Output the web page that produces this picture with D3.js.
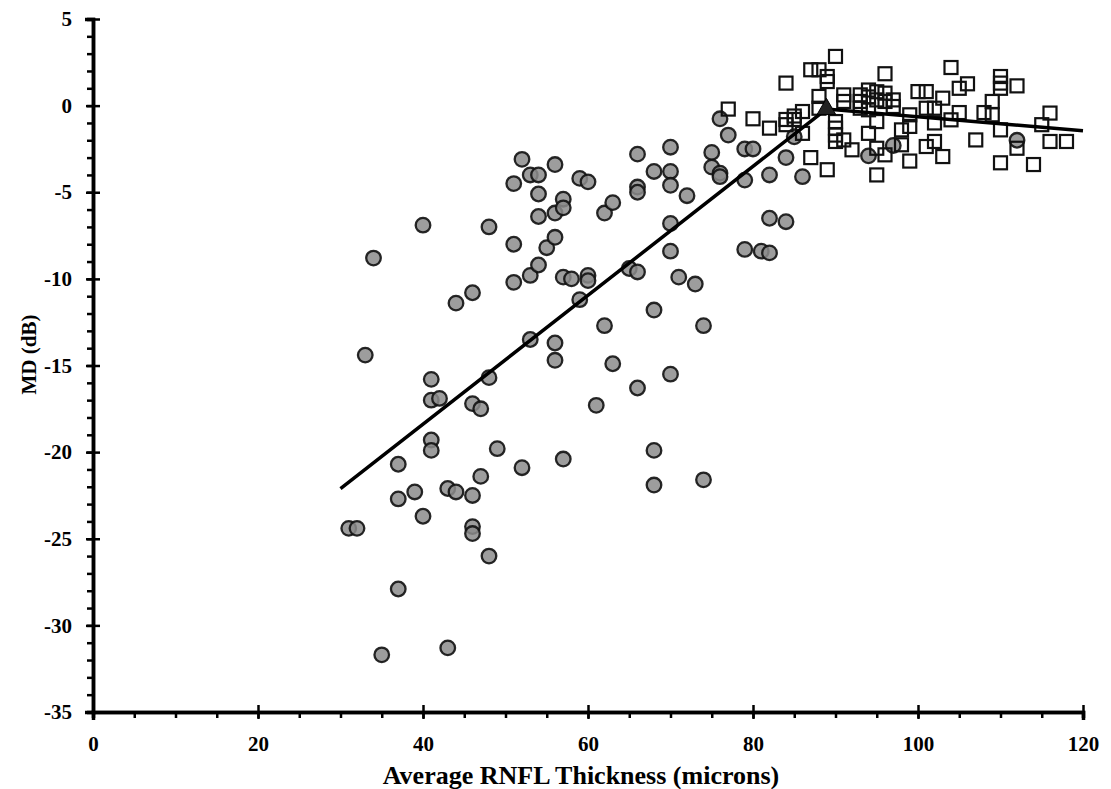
<!DOCTYPE html>
<html>
<head>
<meta charset="utf-8">
<script src="https://cdn.jsdelivr.net/npm/d3@7"></script>
<style>
  body { margin: 0; background: #fff; }
  svg text { font-family: "Liberation Serif", "Times New Roman", serif; font-weight: bold; fill: #000; }
</style>
</head>
<body>
<svg id="chart" width="1111" height="789"></svg>
<script>
// glaucoma eyes (filled circles): [RNFL, MD]
const circleX = [31,32,33,34,35,37,37,37,39,40,40,41,41,41,41,42,43,43,44,44,46,46,46,46,46,47,47,48,48,48,49,
  51,51,51,52,52,53,53,53,54,54,54,54,55,56,56,56,56,56,57,57,57,57,58,59,59,60,60,60,61,62,62,63,63,65,
  66,66,66,66,66,68,68,68,68,70,70,70,70,70,70,71,72,73,74,74,75,75,76,76,76,77,79,79,79,80,81,82,82,82,
  84,84,85,86,94,97,112];
const circleY = [-24.4,-24.4,-14.4,-8.8,-31.7,-20.7,-22.7,-27.9,-22.3,-6.9,-23.7,-15.8,-17.0,-19.3,-19.9,-16.9,-22.1,-31.3,-11.4,-22.3,
  -10.8,-17.2,-22.5,-24.3,-24.7,-17.5,-21.4,-7.0,-15.7,-26.0,-19.8,
  -4.5,-8.0,-10.2,-3.1,-20.9,-4.0,-9.8,-13.5,-4.0,-5.1,-6.4,-9.2,-8.2,-3.4,-6.2,-7.6,-13.7,-14.7,-5.4,-5.9,-9.9,-20.4,-10.0,-4.2,-11.2,
  -4.4,-9.8,-10.1,-17.3,-6.2,-12.7,-5.6,-14.9,-9.4,
  -2.8,-4.7,-5.0,-9.6,-16.3,-3.8,-11.8,-19.9,-21.9,-2.4,-3.8,-4.6,-6.8,-8.4,-15.5,-9.9,-5.2,-10.3,-12.7,-21.6,-2.7,-3.55,-3.9,-4.1,-0.76,
  -1.7,-2.5,-4.3,-8.3,-2.5,-8.4,-4.0,-6.5,-8.5,
  -3.0,-6.7,-1.8,-4.1,-2.9,-2.3,-2.0];

// normal eyes (open squares)
const squareX = [77,80,82,84,84,84,85,85,86,86,87,87,88,88,88,89,89,89,90,90,90,90,90,91,91,91,92,93,93,93,
  94,94,94,94,95,95,95,95,95,96,96,96,96,97,97,98,98,99,99,99,100,101,101,101,102,102,102,103,103,104,104,
  105,105,106,107,108,109,109,110,110,110,110,110,112,112,114,115,116,116,118];
const squareY = [-0.2,-0.76,-1.3,-1.1,1.3,-0.8,-0.6,-0.8,-0.34,-1.6,2.07,-3.0,2.07,0.53,-0.15,1.68,1.39,-3.7,2.84,-0.92,-1.3,-1.7,-2.07,
  0.62,0.24,-1.98,-2.55,0.62,0.24,-0.15,
  0.9,0.5,-0.24,-1.6,0.8,0.33,-0.92,-2.46,-4.0,1.84,0.72,0.24,-2.84,0.33,-0.05,-1.4,-2.26,-0.53,-1.2,-3.2,0.81,0.81,-0.15,-2.36,
  -0.15,-1.0,-2.07,0.43,-2.94,2.2,-0.82,
  1.0,-0.4,1.26,-1.98,-0.4,0.24,-0.53,1.68,1.3,1.0,-1.4,-3.3,1.14,-2.46,-3.4,-1.1,-0.43,-2.07,-2.07];

// broken-stick fit and its breakpoint
const fitX = [30, 88.9, 120];
const fitY = [-22.1, -0.2, -1.45];

const xTicks = [0, 20, 40, 60, 80, 100, 120];
const yTicks = [5, 0, -5, -10, -15, -20, -25, -30, -35];

const margin = { left: 93, top: 19, right: 28, bottom: 77 };
const W = 1111, H = 789;
const width = W - margin.left - margin.right;
const height = H - margin.top - margin.bottom;

const svg = d3.select('#chart');
const g = svg.append('g').attr('transform', `translate(${margin.left},${margin.top})`);

const x = d3.scaleLinear().domain([0, 120]).range([0, width]);
const y = d3.scaleLinear().domain([-35, 5]).range([height, 0]);

// points
const circles = circleX.map((v, i) => [v, circleY[i]]);
const squares = squareX.map((v, i) => [v, squareY[i]]);

g.selectAll('.circ').data(circles).enter().append('circle')
  .attr('cx', d => x(d[0])).attr('cy', d => y(d[1])).attr('r', 7.3)
  .style('fill', '#8c8c8c').style('fill-opacity', 0.85)
  .style('stroke', '#111').style('stroke-width', 2.3).style('stroke-opacity', 0.9);

const s = 13;
g.selectAll('.sq').data(squares).enter().append('rect')
  .attr('x', d => x(d[0]) - s / 2).attr('y', d => y(d[1]) - s / 2)
  .attr('width', s).attr('height', s)
  .style('fill', 'none').style('stroke', '#111').style('stroke-width', 2.2);

// fit line
const line = d3.line().x(d => x(d[0])).y(d => y(d[1]));
g.append('path').datum(fitX.map((v, i) => [v, fitY[i]]))
  .attr('d', line).style('fill', 'none').style('stroke', '#000').style('stroke-width', 3.5);

// breakpoint marker
g.append('path')
  .attr('d', d3.symbol().type(d3.symbolTriangle).size(150))
  .attr('transform', `translate(${x(fitX[1])},${y(fitY[1])})`)
  .style('fill', '#222').style('stroke', '#000').style('stroke-width', 1);

// axes: minor ticks outward, major ticks cross the axis line
const fmt = d => String(d); // plain hyphen minus like the original
const xMinor = d3.axisBottom(x).tickValues(d3.range(0, 121, 5)).tickSize(6).tickFormat('');
const yMinor = d3.axisLeft(y).tickValues(d3.range(-35, 6, 1)).tickSize(6).tickFormat('');
g.append('g').attr('transform', `translate(0,${height})`).call(xMinor)
  .call(a => a.selectAll('line').style('stroke-width', 2.5));
g.append('g').call(yMinor)
  .call(a => a.selectAll('line').style('stroke-width', 2.5));

const xAxis = g.append('g').attr('transform', `translate(0,${height})`)
  .call(d3.axisBottom(x).tickValues(xTicks).tickFormat(fmt).tickSize(8).tickPadding(16));
xAxis.selectAll('line').attr('y1', -7).attr('y2', 7).style('stroke-width', 2.5);
xAxis.selectAll('text').style('font-size', '21px');

const yAxis = g.append('g')
  .call(d3.axisLeft(y).tickValues(yTicks).tickFormat(fmt).tickSize(8).tickPadding(13));
yAxis.selectAll('line').attr('x1', -7).attr('x2', 7).style('stroke-width', 2.5);
yAxis.selectAll('text').style('font-size', '21px');

svg.selectAll('.domain').style('stroke', '#000').style('stroke-width', 3.5);

// axis titles
g.append('text')
  .attr('x', width / 2 - 7).attr('y', height + 72)
  .attr('text-anchor', 'middle')
  .style('font-size', '26px')
  .text('Average RNFL Thickness (microns)');

g.append('text')
  .attr('transform', `translate(${-margin.left + 36},${height / 2 - 11}) rotate(-90)`)
  .attr('text-anchor', 'middle')
  .style('font-size', '21px')
  .text('MD (dB)');
</script>
</body>
</html>
